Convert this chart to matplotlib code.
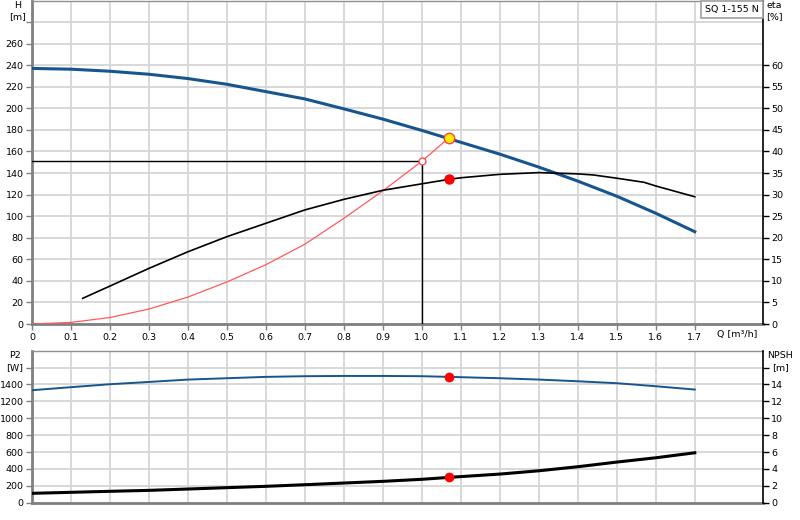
import numpy as np
import matplotlib
matplotlib.use("Agg")
import matplotlib.pyplot as plt

plt.rcParams['font.family'] = ['DejaVu Sans']

# pump curve H [m]
q_head = [0, 0.1, 0.2, 0.3, 0.4, 0.5, 0.6, 0.7, 0.8, 0.9, 1.0, 1.1, 1.2, 1.3, 1.4, 1.5, 1.6, 1.7]
head = [237, 236.3, 234.4, 231.6, 227.6, 222.3, 215.5, 208.7, 199.5, 190, 179.5, 168.5, 157.5, 145.5, 132.5, 118.5, 102.7, 85.6]

# efficiency eta [%]
q_eta = [0.13, 0.2, 0.3, 0.4, 0.5, 0.6, 0.7, 0.8, 0.9, 1.0, 1.07, 1.1, 1.2, 1.3, 1.4, 1.44, 1.5, 1.57, 1.6, 1.7]
eta = [5.95, 8.8, 12.9, 16.75, 20.25, 23.35, 26.45, 28.9, 31.0, 32.5, 33.55, 33.9, 34.7, 35.1, 34.8, 34.55, 33.8, 32.85, 32.0, 29.5]

# system curve
q_sys = [0, 0.1, 0.2, 0.3, 0.4, 0.5, 0.6, 0.7, 0.8, 0.9, 1.0, 1.07]
h_sys = [0, 1.5, 6, 13.9, 25, 39, 55, 74, 98, 123.5, 151, 172.8]

# P2 [W] and NPSH [m]
q_low = [0, 0.1, 0.2, 0.3, 0.4, 0.5, 0.6, 0.7, 0.8, 0.9, 1.0, 1.07, 1.2, 1.3, 1.4, 1.5, 1.6, 1.7]
p2 = [1332, 1368, 1403, 1430, 1458, 1474, 1490, 1498, 1501, 1501, 1498, 1490, 1474, 1458, 1438, 1415, 1379, 1340]
npsh = [1.11, 1.23, 1.35, 1.46, 1.62, 1.78, 1.94, 2.13, 2.33, 2.53, 2.77, 3.0, 3.39, 3.78, 4.26, 4.81, 5.32, 5.91]

q_req, h_req = 1.0, 151
q_duty, h_duty, eta_duty = 1.07, 172.8, 33.55
p2_duty, npsh_duty = 1490, 3.0

x_ticks = [round(0.1 * i, 1) for i in range(18)]
x_labels = ["0"] + [f"{v:.1f}" for v in x_ticks[1:]]

BLUE = "#17558f"
GRID = "#d6d6d6"
FS = 6.8
W, H = 800, 520


def style_pair(ax, ax2, ymax, ystep, ylabel_max, y2max, y2step, y2label_max):
    ax.set_xlim(0, 1.875)
    ax.set_ylim(0, ymax)
    ax2.set_ylim(0, y2max)
    ax.set_xticks(x_ticks)
    yt = np.arange(0, ymax, ystep)
    ax.set_yticks(yt)
    ax.set_yticklabels([f"{v:g}" if v <= ylabel_max else "" for v in yt])
    ax.grid(True, color=GRID, lw=1.3)
    ax.set_axisbelow(True)
    ax.tick_params(axis="y", length=4, width=1, color="#808080", labelsize=FS, pad=2)
    ax.tick_params(axis="x", length=4, width=1, color="#808080", labelsize=FS, pad=2.5)
    for s in ["left", "bottom"]:
        ax.spines[s].set_color("#808080")
        ax.spines[s].set_linewidth(2)
    ax.spines["top"].set_color("#909090")
    ax.spines["top"].set_linewidth(1)
    ax.spines["right"].set_visible(False)
    y2 = np.arange(0, y2label_max + y2step * 1.01, y2step)
    ax2.set_yticks(y2)
    ax2.set_yticklabels([f"{v:g}" if v <= y2label_max + 1e-9 else "" for v in y2])
    ax2.tick_params(axis="y", length=4, width=1, color="black", labelsize=FS, pad=2)
    for s in ["left", "top", "bottom"]:
        ax2.spines[s].set_visible(False)
    ax2.spines["right"].set_color("black")
    ax2.spines["right"].set_linewidth(1.2)


def px_text(fig, x, y, s, **kw):
    fig.text(x / W, 1 - y / H, s, ha="center", va="center", fontsize=FS, **kw)


fig = plt.figure(figsize=(8, 5.2), dpi=100)

top = fig.add_axes([32 / W, 196 / H, 731 / W, 323.5 / H])
top2 = top.twinx()
style_pair(top, top2, 300, 20, 260, 75, 5, 60)
top2.set_yticks(np.arange(0, 61, 5))
top2.set_yticklabels([f"{v}" for v in range(0, 61, 5)])
top.set_xticklabels(x_labels)
top.text(1.81, -0.032, "Q [m³/h]", transform=top.get_xaxis_transform(),
         ha="center", va="center", fontsize=FS)

top.plot(q_head, head, color=BLUE, lw=2.2, zorder=4)
top.plot(q_sys, h_sys, color="#ff5a5a", lw=0.9, zorder=3)
top.plot([0, q_req], [h_req, h_req], color="black", lw=1, zorder=3)
top.plot([q_req, q_req], [0, h_req], color="black", lw=1, zorder=3)
top.plot(q_req, h_req, "o", ms=5, mfc="white", mec="#ff4040", mew=0.9, zorder=5)
top.plot(q_duty, h_duty, "o", ms=7.5, mfc="#ffee00", mec="#ff4040", mew=1, zorder=6)
top2.plot(q_eta, eta, color="black", lw=1.2, zorder=3)
top2.plot(q_duty, eta_duty, "o", ms=6.5, color="red", zorder=6)

bot = fig.add_axes([32 / W, 17.3 / H, 731 / W, 152 / H])
bot2 = bot.twinx()
style_pair(bot, bot2, 1800, 200, 1400, 18, 2, 14)
bot.tick_params(axis="x", length=0, labelbottom=False)

bot.plot(q_low, p2, color=BLUE, lw=1.4, zorder=3)
bot.plot(q_duty, p2_duty, "o", ms=6, color="red", zorder=6)
bot2.plot(q_low, npsh, color="black", lw=2.2, zorder=3)
bot2.plot(q_duty, npsh_duty, "o", ms=6, color="red", zorder=6)

px_text(fig, 17.5, 5, "H")
px_text(fig, 18, 17, "[m]")
px_text(fig, 774, 5.5, "eta")
px_text(fig, 774, 17, "[%]")
px_text(fig, 15, 356, "P2")
px_text(fig, 15, 367.5, "[W]")
px_text(fig, 780.5, 355, "NPSH")
px_text(fig, 780.5, 367.5, "[m]")

fig.text(732 / W, 1 - 9.5 / H, "SQ 1-155 N", ha="center", va="center", fontsize=FS,
         bbox=dict(boxstyle="square,pad=0.4", fc="white", ec="#a0a0a0", lw=1.2))

fig.savefig("out.png", dpi=100)
